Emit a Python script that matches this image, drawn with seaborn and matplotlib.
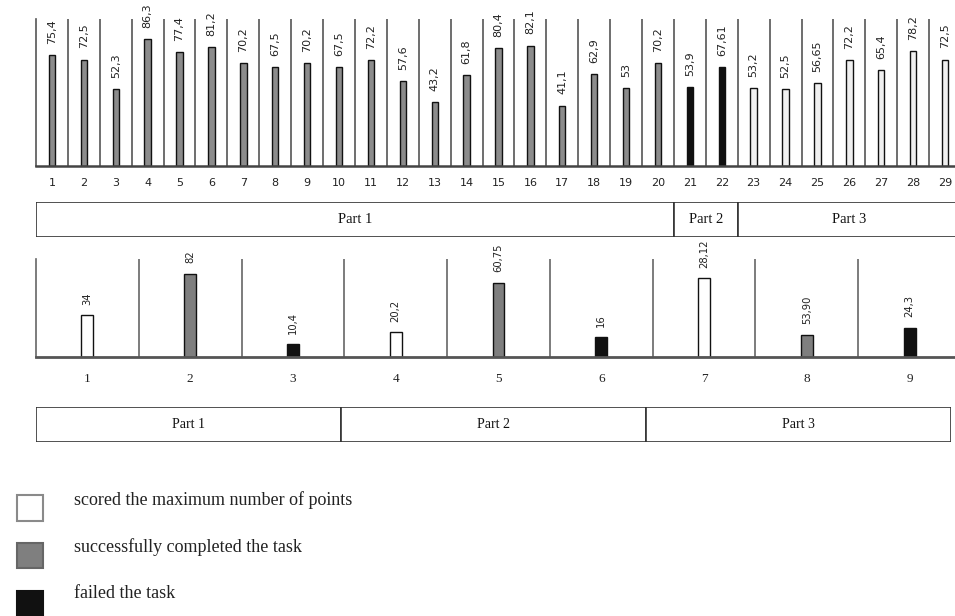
import matplotlib
matplotlib.use("Agg")
import matplotlib.pyplot as plt
from matplotlib.patches import Rectangle
import numpy as np
import pandas as pd
import seaborn as sns

# ---------------- data ----------------
# top chart: share of students who solved each task
tasks = [str(i) for i in range(1, 30)]
task_values = [75.4, 72.5, 52.3, 86.3, 77.4, 81.2, 70.2, 67.5, 70.2, 67.5,
               72.2, 57.6, 43.2, 61.8, 80.4, 82.1, 41.1, 62.9, 53, 70.2,
               53.9, 67.61, 53.2, 52.5, 56.65, 72.2, 65.4, 78.2, 72.5]
task_parts = ["Part 1"] * 20 + ["Part 2"] * 2 + ["Part 3"] * 7

parts = ["Part 1", "Part 2", "Part 3"]
part_first = [1, 21, 23]
part_last = [20, 22, 29]

# bottom chart: bar heights as drawn and the printed labels
levels = ["1", "2", "3", "4", "5", "6", "7", "8", "9"]
level_heights = [34, 67.2, 10.4, 20.2, 60, 16, 63.7, 18.1, 23.7]
level_labels = ["34", "82", "10,4", "20,2", "60,75", "16", "28,12", "53,90", "24,3"]
level_kind = ["max", "success", "failed", "max", "success", "failed", "max", "success", "failed"]
level_part_start = [0, 3, 6]
level_part_width = [3, 3, 3]

legend_kinds = ["max", "success", "failed"]
legend_labels = ["scored the maximum number of points",
                 "successfully completed the task",
                 "failed the task"]

part_colors = {"Part 1": "#8c8c8c", "Part 2": "#111111", "Part 3": "#f0f0f0"}
kind_colors = {"max": "#ffffff", "success": "#7f7f7f", "failed": "#111111"}

sns.set_style("white")
plt.rcParams["font.family"] = ["DejaVu Sans"]
SERIF = "Liberation Serif"

W, H = 955, 616
fig = plt.figure(figsize=(W / 100, H / 100), dpi=100)


def px_axes(x0, y0, x1, y1):
    # axes from pixel box (top-left origin)
    return fig.add_axes([x0 / W, 1 - y1 / H, (x1 - x0) / W, (y1 - y0) / H])


# ================= top chart =================
ax1 = px_axes(36, 19.3, 961, 165.7)
top_df = pd.DataFrame({"task": tasks, "value": task_values, "part": task_parts})
sns.barplot(data=top_df, x="task", y="value", hue="part", order=tasks,
            palette=part_colors, dodge=False, width=0.2, edgecolor="#111111",
            linewidth=1, errorbar=None, legend=False, ax=ax1)
ax1.set_xlim(-0.5, len(tasks) - 0.5)
ax1.set_ylim(0, 100)
ax1.vlines(np.arange(0.5, len(tasks) - 0.5), 0, 100, color="#555555", lw=1.2)
for i, v in enumerate(task_values):
    ax1.annotate(str(v).replace(".", ","), (i, v), xytext=(0, 8),
                 textcoords="offset points", rotation=90, ha="center",
                 va="bottom", fontsize=8, color="#222222", annotation_clip=False)
for s in ["top", "right"]:
    ax1.spines[s].set_visible(False)
ax1.spines["left"].set_color("#555555")
ax1.spines["left"].set_linewidth(1.2)
ax1.spines["bottom"].set_color("#444444")
ax1.spines["bottom"].set_linewidth(1.8)
ax1.set_yticks([])
ax1.set_xlabel("")
ax1.set_ylabel("")
ax1.tick_params(axis="x", length=0, pad=9, labelsize=8, colors="#222222")

# part boxes under the top chart
axp1 = px_axes(36, 201.7, 961, 237.3)
lefts = [f - 1.5 for f in part_first]
widths = [l - f + 1 for f, l in zip(part_first, part_last)]
axp1.barh([0.5] * 3, widths, left=lefts, height=1, color="white",
          edgecolor="#333333", linewidth=1.2)
for p, l, w in zip(parts, lefts, widths):
    axp1.text(l + w / 2, 0.5, p, ha="center", va="center", fontsize=10.5,
              family=SERIF, color="#111111")
axp1.set_xlim(-0.5, len(tasks) - 0.5)
axp1.set_ylim(0, 1)
axp1.axis("off")

# ================= bottom chart =================
ax2 = px_axes(36, 259, 961, 357.3)
bot_df = pd.DataFrame({"level": levels, "height": level_heights, "kind": level_kind})
sns.barplot(data=bot_df, x="level", y="height", hue="kind", order=levels,
            palette=kind_colors, dodge=False, width=0.115, edgecolor="#111111",
            linewidth=1, errorbar=None, legend=False, ax=ax2)
ax2.set_xlim(-0.5, len(levels) - 0.5)
ax2.set_ylim(0, 79)
ax2.vlines(np.arange(0.5, len(levels) - 0.5), 0, 79, color="#666666", lw=1.2)
for i, (h, lab) in enumerate(zip(level_heights, level_labels)):
    ax2.annotate(lab, (i, h), xytext=(0, 7.5), textcoords="offset points",
                 rotation=90, ha="center", va="bottom", fontsize=7.2,
                 color="#222222", annotation_clip=False)
for s in ["top", "right"]:
    ax2.spines[s].set_visible(False)
ax2.spines["left"].set_color("#666666")
ax2.spines["left"].set_linewidth(1.2)
ax2.spines["bottom"].set_color("#555555")
ax2.spines["bottom"].set_linewidth(2)
ax2.set_yticks([])
ax2.set_xlabel("")
ax2.set_ylabel("")
ax2.tick_params(axis="x", length=0, pad=11, labelsize=9.5, colors="#222222")
for t in ax2.get_xticklabels():
    t.set_family(SERIF)

axp2 = px_axes(36, 406.7, 951, 441.7)
axp2.barh([0.5] * 3, level_part_width, left=level_part_start, height=1,
          color="white", edgecolor="#333333", linewidth=1.2)
for p, l, w in zip(parts, level_part_start, level_part_width):
    axp2.text(l + w / 2, 0.5, p, ha="center", va="center", fontsize=10,
              family=SERIF, color="#111111")
axp2.set_xlim(0, 9)
axp2.set_ylim(0, 1)
axp2.axis("off")

# ================= legend =================
sq_top = [495, 542.7, 590.7]
txt_y = [500, 547, 593]
edge = {"max": "#8a8a8a", "success": "#666666", "failed": "#111111"}
for k, lab, y0, ty in zip(legend_kinds, legend_labels, sq_top, txt_y):
    fig.patches.append(Rectangle((17 / W, 1 - (y0 + 25.5) / H), 26 / W, 25.5 / H,
                                 transform=fig.transFigure, facecolor=kind_colors[k],
                                 edgecolor=edge[k], linewidth=1.5))
    fig.text(74 / W, 1 - ty / H, lab, ha="left", va="center", fontsize=13,
             family=SERIF, color="#222222")

fig.savefig("out.png", dpi=100)
